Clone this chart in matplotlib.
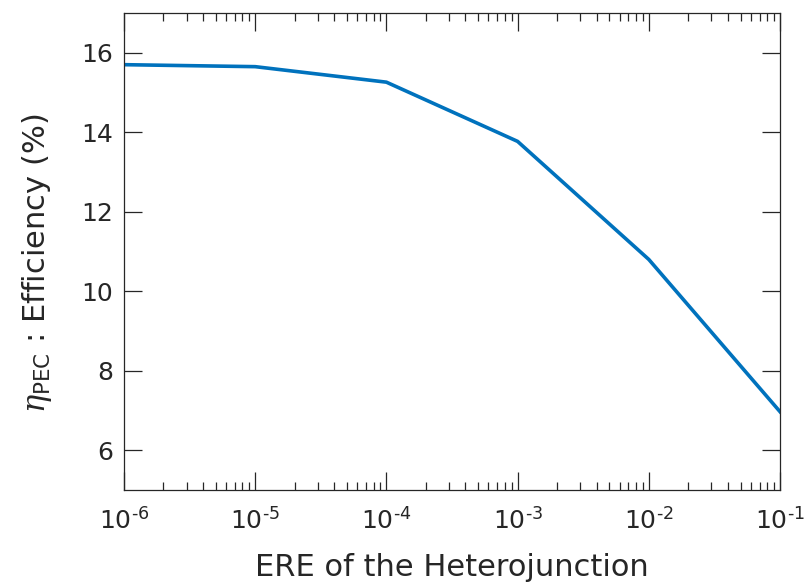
import matplotlib
matplotlib.use("Agg")
import matplotlib.pyplot as plt
from matplotlib.ticker import LogLocator, NullFormatter

plt.rcParams['font.family'] = ['DejaVu Sans']
plt.rcParams['mathtext.fontset'] = 'custom'
plt.rcParams['mathtext.rm'] = 'DejaVu Sans'
plt.rcParams['mathtext.sf'] = 'DejaVu Sans'
plt.rcParams['mathtext.it'] = 'DejaVu Serif:italic'

ere = [1e-6, 1e-5, 1e-4, 1e-3, 1e-2, 1e-1]
efficiency = [15.70, 15.65, 15.26, 13.77, 10.80, 6.97]
x_ticks = [1e-6, 1e-5, 1e-4, 1e-3, 1e-2, 1e-1]
x_exponents = ['-6', '-5', '-4', '-3', '-2', '-1']
y_ticks = [6, 8, 10, 12, 14, 16]

fig = plt.figure(figsize=(8.06, 5.84), dpi=100)
ax = fig.add_axes([124/806, 1 - 490/584, (780-124)/806, (490-13)/584])

ax.plot(ere, efficiency, color='#0072BD', linewidth=2.6)
ax.set_xscale('log')
ax.set_xlim(1e-6, 1e-1)
ax.set_ylim(5, 17)
ax.set_xticks(x_ticks)
ax.set_xticklabels([r'$\mathrm{10}^{\mathrm{%s}}$' % e.replace('-', '\u2010') for e in x_exponents])
ax.xaxis.set_minor_locator(LogLocator(base=10, subs=range(2, 10), numticks=20))
ax.xaxis.set_minor_formatter(NullFormatter())
ax.set_yticks(y_ticks)

dark = '#262626'
for s in ax.spines.values():
    s.set_color(dark)
    s.set_linewidth(0.9)
ax.tick_params(which='major', direction='in', length=13, width=0.9, top=True, right=True,
               colors=dark, labelsize=18, pad=8)
ax.tick_params(which='minor', direction='in', length=6, width=0.9, top=True, right=True,
               colors=dark)
ax.tick_params(axis='x', which='major', pad=12)

ax.set_xlabel('ERE of the Heterojunction', fontsize=22, color=dark, labelpad=14)
ax.set_ylabel(r'$\eta_{\mathrm{PEC}}$ : Efficiency (%)', fontsize=22, color=dark, labelpad=20)
ax.yaxis.set_label_coords(-0.107, 0.475)

fig.savefig('out.png', dpi=100)
